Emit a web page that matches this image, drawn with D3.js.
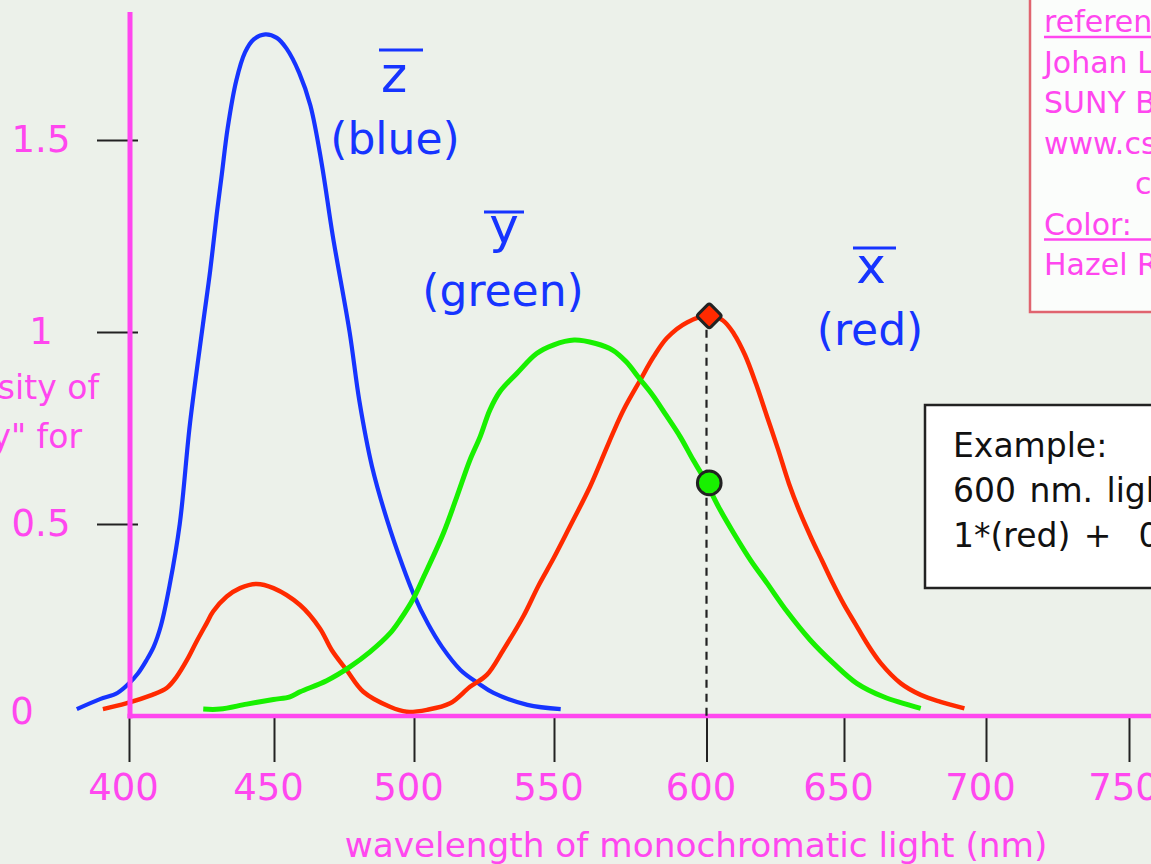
<!DOCTYPE html>
<html><head><meta charset="utf-8">
<script src="https://cdn.jsdelivr.net/npm/d3@7"></script>
<style>html,body{margin:0;padding:0;background:#ecf1ea;overflow:hidden}</style>
</head><body>
<svg id="chart" width="1151" height="864"></svg>
<script>
// ---- data ----
const xTicks = [400, 450, 500, 550, 600, 650, 700, 750];
const yTicks = [0, 0.5, 1, 1.5];
const yTickLabels = ["0", "0.5", "1", "1.5"];

// z-bar (blue): [wavelength nm, value]
const blueZ = [[382,0.018],[390,0.044],[396,0.06],[400,0.085],[403,0.11],[406,0.145],[408.5,0.18],[411,0.235],[414,0.34],[417.5,0.5],[421,0.76],[425.5,1.02],[428,1.16],[430.3,1.31],[432,1.41],[434,1.53],[437,1.655],[440,1.728],[443,1.762],[447,1.775],[451,1.766],[454.5,1.738],[459,1.675],[463,1.59],[467,1.44],[471,1.25],[477,1.0],[480.5,0.82],[485,0.65],[490.4,0.51],[496,0.39],[500,0.315],[505,0.24],[510,0.18],[516.6,0.12],[523,0.085],[528.4,0.06],[540.5,0.029],[552.2,0.018]];

// y-bar (green)
const greenY = [[425.6,0.018],[431.4,0.018],[440.6,0.031],[449.8,0.043],[455.7,0.05],[459.3,0.063],[468.8,0.092],[477.1,0.128],[484.3,0.167],[491.4,0.215],[495,0.25],[499.8,0.306],[503.3,0.36],[510.5,0.476],[515.3,0.571],[520,0.667],[523.6,0.727],[527.1,0.797],[530.7,0.845],[536.7,0.892],[543.8,0.944],[549.7,0.966],[556.6,0.979],[563.7,0.97],[569.2,0.953],[573.6,0.923],[578,0.879],[582.3,0.836],[586.7,0.784],[591.4,0.727],[595.6,0.667],[598.9,0.623],[605.1,0.535],[609.9,0.476],[616,0.406],[622,0.346],[629.3,0.272],[637.7,0.198],[646.2,0.137],[654.5,0.085],[663.9,0.05],[677,0.02]];

// x-bar (red)
const redX = [[391,0.018],[399,0.033],[408,0.055],[413,0.073],[416.4,0.102],[420,0.146],[423.3,0.194],[426.8,0.242],[429,0.272],[433.7,0.311],[438.3,0.333],[444,0.344],[449.8,0.333],[459.3,0.289],[466.4,0.228],[470.6,0.172],[475.9,0.12],[481.9,0.063],[491.4,0.024],[497.4,0.011],[504.6,0.016],[512.9,0.033],[520,0.076],[526,0.107],[531.9,0.172],[539,0.259],[544.5,0.34],[549.8,0.41],[555,0.49],[561.8,0.597],[565.6,0.667],[569.5,0.74],[573,0.8],[578.3,0.875],[582.7,0.936],[587.1,0.985],[593.6,1.025],[601,1.042],[606,1.03],[610,0.995],[614,0.94],[618,0.865],[622,0.78],[626,0.695],[630,0.605],[634,0.53],[638,0.465],[642,0.405],[646,0.345],[650,0.29],[654,0.24],[658,0.19],[663,0.137],[670,0.085],[677,0.055],[684,0.037],[692.4,0.02]];

const exampleNm = 600;
const exampleMarks = [{nm: 601, v: 1.042, kind: "red"}, {nm: 601, v: 0.607, kind: "green"}];

const curveLetters = ["z", "y", "x"];
const curveNames = ["(blue)", "(green)", "(red)"];

const refLines = ["references:", "Johan Lindell", "SUNY Buffalo", "www.cse.buffalo.edu", "course notes", "Color:  Why the World Isn't Grey", "Hazel Rossotti"];
const exampleLines = ["Example:", "600 nm. light =", "1*(red) +  0.6*(green)"];
const yTitleLines = ["Relative intensity of", "\"primary\" for"];
const xTitle = "wavelength of monochromatic light (nm)";

// ---- drawing ----
const W = 1151, H = 864;
const PINK = "#ff47ef", BLUE = "#1634ff", RED = "#ff2a00", GREEN = "#18f000", INK = "#222";
const FONT = "'DejaVu Sans', Verdana, sans-serif";
const svg = d3.select("#chart");
svg.append("rect").attr("width", W).attr("height", H).attr("fill", "#ecf1ea");

const x = d3.scaleLinear().domain(xTicks).range([129, 274, 414, 554, 706.5, 844, 986, 1129]);
const y = d3.scaleLinear().domain([0, 1.5]).range([716, 140]);

// reference box (top right)
const rb = svg.append("g").attr("font-family", FONT).attr("font-size", 30).attr("fill", PINK);
rb.append("rect").attr("x", 1030).attr("y", -10).attr("width", 220).attr("height", 322)
  .attr("fill", "#fbfdfb").attr("stroke", "#e0646f").attr("stroke-width", 2.5);
refLines.forEach((t, i) => {
  const by = 32 + i * 40.5;
  rb.append("text").attr("x", i === 4 ? 1135 : 1044).attr("y", by).text(t).style("white-space", "pre");
  if (i === 0 || i === 5) {
    rb.append("line").attr("x1", 1044).attr("x2", W + 10).attr("y1", by + 5).attr("y2", by + 5)
      .attr("stroke", PINK).attr("stroke-width", 2.5);
  }
});

// y axis title (cut by left edge)
const yt = svg.append("g").attr("font-family", FONT).attr("font-size", 33).attr("fill", PINK).attr("text-anchor", "end");
yt.append("text").attr("x", 99).attr("y", 399).text(yTitleLines[0]);
yt.append("text").attr("x", 82).attr("y", 448).text(yTitleLines[1]);

// x axis
const gx = svg.append("g").attr("transform", `translate(0,${y(0)})`)
  .call(d3.axisBottom(x).tickValues(xTicks).tickSize(46).tickPadding(12).tickFormat(d3.format("d")));
gx.select(".domain").remove();
gx.selectAll(".tick line").attr("stroke", INK).attr("stroke-width", 2);
gx.selectAll(".tick text").attr("fill", PINK).attr("font-family", FONT).attr("font-size", 37).attr("dx", -6);

// y axis
const gy = svg.append("g").attr("transform", `translate(${x(400)},0)`)
  .call(d3.axisLeft(y).tickValues(yTicks).tickSize(32).tickPadding(0).tickFormat((d, i) => yTickLabels[i]));
gy.select(".domain").remove();
gy.selectAll(".tick line").attr("stroke", INK).attr("stroke-width", 2).attr("x1", 9)
  .attr("display", d => d === 0 ? "none" : null);
gy.selectAll(".tick text").attr("fill", PINK).attr("font-family", FONT).attr("font-size", 37)
  .attr("text-anchor", "middle").attr("x", d => d === 0 ? -107 : -88).attr("dy", d => d === 0 ? "0.2em" : "0.32em");

// x title
svg.append("text").attr("x", 696).attr("y", 857).attr("text-anchor", "middle")
  .attr("font-family", FONT).attr("font-size", 34.3).attr("fill", PINK).text(xTitle);

// curves
const line = d3.line().x(d => x(d[0])).y(d => y(d[1])).curve(d3.curveCatmullRom.alpha(0.5));
[[blueZ, BLUE, 4.2], [redX, RED, 4.5], [greenY, GREEN, 5]].forEach(([data, c, w]) => {
  svg.append("path").attr("d", line(data)).attr("fill", "none").attr("stroke", c)
    .attr("stroke-width", w).attr("stroke-linejoin", "round");
});

// pink axis lines
svg.append("line").attr("x1", x(400) + 1).attr("x2", x(400) + 1).attr("y1", 12).attr("y2", y(0) + 2.5)
  .attr("stroke", PINK).attr("stroke-width", 5);
svg.append("line").attr("x1", x(400) - 1.5).attr("x2", W + 5).attr("y1", y(0)).attr("y2", y(0))
  .attr("stroke", PINK).attr("stroke-width", 4.5);

// dashed guide at 600 nm
svg.append("line").attr("x1", x(exampleNm)).attr("x2", x(exampleNm))
  .attr("y1", y(exampleMarks[0].v)).attr("y2", y(0))
  .attr("stroke", INK).attr("stroke-width", 2.2).attr("stroke-dasharray", "8,6");

// markers
exampleMarks.forEach(m => {
  const g = svg.append("g").attr("transform", `translate(${x(m.nm)},${y(m.v)})`);
  if (m.kind === "red") {
    g.append("rect").attr("x", -9).attr("y", -9).attr("width", 18).attr("height", 18).attr("rx", 2.5)
      .attr("transform", "rotate(45)").attr("fill", RED).attr("stroke", INK).attr("stroke-width", 3);
  } else {
    g.append("path").attr("d", d3.symbol().type(d3.symbolCircle).size(440)())
      .attr("fill", GREEN).attr("stroke", INK).attr("stroke-width", 3);
  }
});

// curve labels
const lab = svg.append("g").attr("font-family", FONT).attr("fill", BLUE).attr("text-anchor", "middle");
const labelPos = [
  {lx: 394, ly: 92, ox1: 379, ox2: 423, oy: 50, nx: 395, ny: 154},
  {lx: 504, ly: 243, ox1: 484, ox2: 524, oy: 212, nx: 503, ny: 306},
  {lx: 871, ly: 283, ox1: 853, ox2: 896, oy: 248, nx: 870, ny: 345}
];
curveLetters.forEach((l, i) => {
  const p = labelPos[i];
  lab.append("text").attr("x", p.lx).attr("y", p.ly).attr("font-size", 50).text(l);
  lab.append("line").attr("x1", p.ox1).attr("x2", p.ox2).attr("y1", p.oy).attr("y2", p.oy)
    .attr("stroke", BLUE).attr("stroke-width", 3);
  lab.append("text").attr("x", p.nx).attr("y", p.ny).attr("font-size", 44).text(curveNames[i]);
});

// example box
const eb = svg.append("g").attr("font-family", FONT).attr("font-size", 33).attr("fill", "#111");
eb.append("rect").attr("x", 925).attr("y", 405).attr("width", 300).attr("height", 183)
  .attr("fill", "#ffffff").attr("stroke", INK).attr("stroke-width", 2.5);
exampleLines.forEach((t, i) => {
  eb.append("text").attr("x", 953).attr("y", 457 + i * 45).attr("word-spacing", 3)
    .style("white-space", "pre").text(t);
});
</script>
</body></html>
